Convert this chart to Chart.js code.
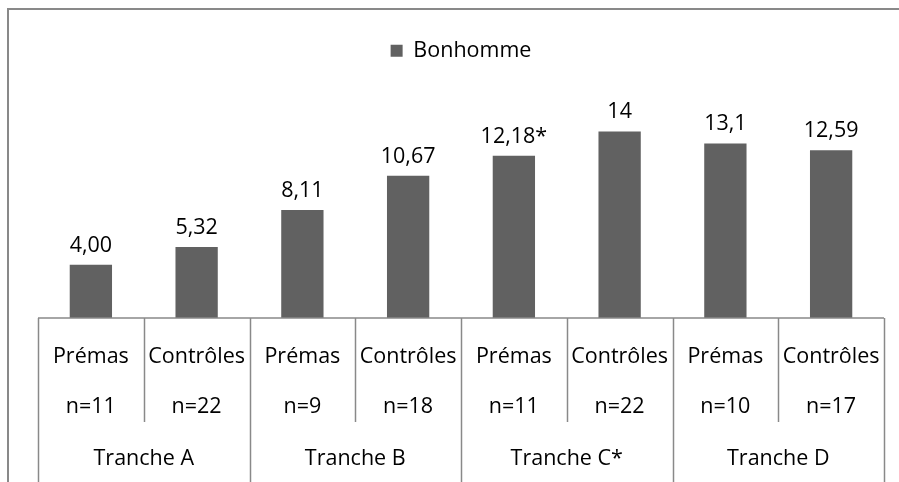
<!DOCTYPE html>
<html>
<head>
<meta charset="utf-8">
<script src="https://cdn.jsdelivr.net/npm/chart.js@4.4.0/dist/chart.umd.min.js"></script>
<style>
  html, body { margin: 0; padding: 0; background: #ffffff; }
  #wrap { width: 899px; height: 482px; position: relative; }
</style>
</head>
<body>
<div id="wrap"><canvas id="c" width="899" height="482"></canvas></div>
<script>
// ---- Data ----
const groups = ["Prémas", "Contrôles", "Prémas", "Contrôles", "Prémas", "Contrôles", "Prémas", "Contrôles"];
const sizes = ["n=11", "n=22", "n=9", "n=18", "n=11", "n=22", "n=10", "n=17"];
const tranches = ["Tranche A", "Tranche B", "Tranche C*", "Tranche D"];
const seriesName = "Bonhomme";
const values = [4.00, 5.32, 8.11, 10.67, 12.18, 14, 13.1, 12.59];
const valueLabels = ["4,00", "5,32", "8,11", "10,67", "12,18*", "14", "13,1", "12,59"];

const FONT = "'Open Sans', 'Noto Sans', sans-serif";
const FSIZE = 21.5;
const LINE = "#898989";
const BAR = "#616161";

const categories = groups.map((g, i) => g + " " + sizes[i]);

const multiAxis = {
  id: 'multiAxis',
  afterDraw(chart) {
    const ctx = chart.ctx;
    const x = chart.scales.x;
    const area = chart.chartArea;
    const n = categories.length;
    const edge = i => {
      if (i === 0) return area.left;
      if (i === n) return area.right;
      return (x.getPixelForValue(i - 1) + x.getPixelForValue(i)) / 2;
    };
    const base = area.bottom;
    ctx.save();
    // outer frame
    ctx.strokeStyle = LINE;
    ctx.lineWidth = 2;
    ctx.beginPath();
    ctx.moveTo(8, 482);
    ctx.lineTo(8, 9);
    ctx.lineTo(899, 9);
    ctx.stroke();
    // axis line
    ctx.lineWidth = 1.5;
    ctx.beginPath();
    ctx.moveTo(area.left, base);
    ctx.lineTo(area.right, base);
    ctx.stroke();
    // dividers
    for (let i = 0; i <= n; i++) {
      const px = Math.round(edge(i)) + 0.5;
      ctx.beginPath();
      ctx.moveTo(px, base);
      ctx.lineTo(px, i % 2 === 0 ? 482 : base + 104);
      ctx.stroke();
    }
    // labels
    ctx.fillStyle = "#000";
    ctx.textAlign = "center";
    ctx.textBaseline = "middle";
    ctx.font = FSIZE + "px " + FONT;
    for (let i = 0; i < n; i++) {
      const cx = x.getPixelForValue(i);
      ctx.fillText(groups[i], cx, base + 39);
      ctx.fillText(sizes[i], cx, base + 89);
    }
    tranches.forEach((t, k) => {
      const cx = (edge(2 * k) + edge(2 * k + 2)) / 2;
      ctx.fillText(t, cx, base + 141);
    });
    // data labels
    const meta = chart.getDatasetMeta(0);
    ctx.textBaseline = "alphabetic";
    meta.data.forEach((bar, i) => {
      ctx.fillText(valueLabels[i], bar.x, bar.y - 13);
    });
    ctx.restore();
  }
};

new Chart(document.getElementById('c'), {
  type: 'bar',
  data: {
    labels: categories,
    datasets: [{
      label: seriesName,
      data: values,
      backgroundColor: BAR,
      borderWidth: 0,
      barPercentage: 0.4,
      categoryPercentage: 1.0
    }]
  },
  options: {
    responsive: false,
    animation: false,
    layout: { padding: { left: 38, right: 15, top: 16, bottom: 164 } },
    plugins: {
      legend: {
        display: true,
        position: 'top',
        labels: {
          boxWidth: 12,
          boxHeight: 12,
          padding: 24,
          color: '#000',
          font: { family: FONT, size: FSIZE }
        }
      },
      tooltip: { enabled: false }
    },
    scales: {
      x: {
        display: false,
        offset: true,
        grid: { display: false }
      },
      y: {
        display: false,
        min: 0,
        max: 18.5,
        grid: { display: false }
      }
    }
  },
  plugins: [multiAxis]
});
</script>
</body>
</html>
